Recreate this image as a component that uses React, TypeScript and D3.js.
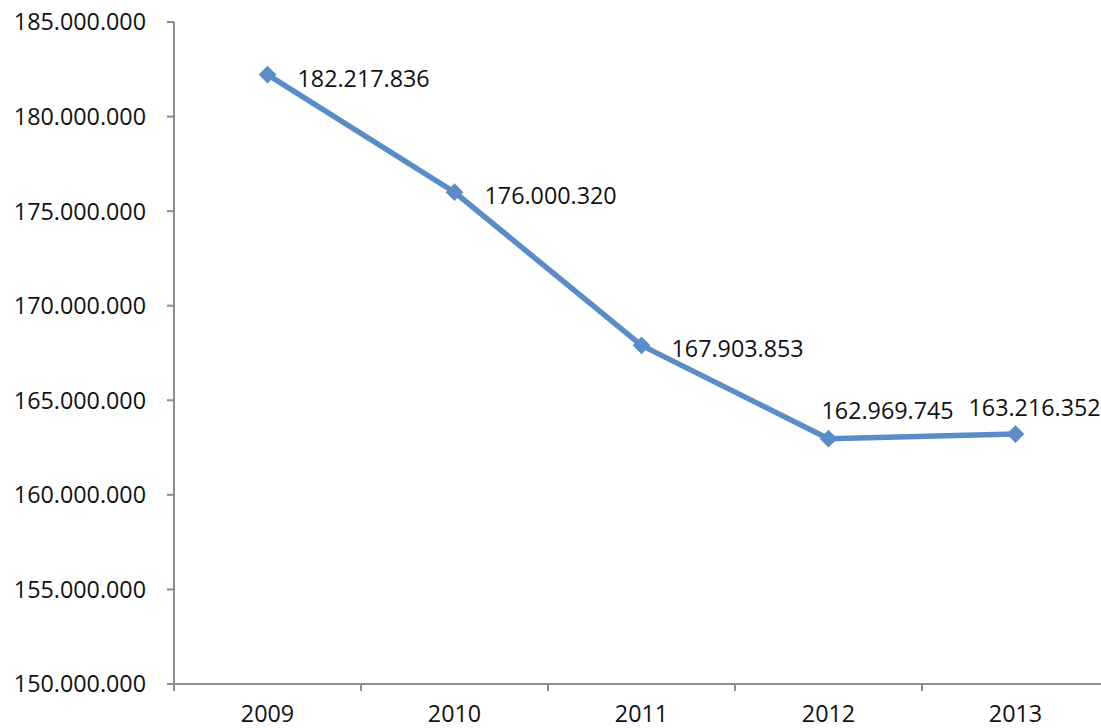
import React from "react";
import * as d3 from "d3";

const years = ["2009", "2010", "2011", "2012", "2013"];
const values = [182217836, 176000320, 167903853, 162969745, 163216352];
const yTicks = [150000000, 155000000, 160000000, 165000000, 170000000, 175000000, 180000000, 185000000];
const labelSide = ["right", "right", "right", "above", "above"];

const W = 1101;
const H = 728;
const FONT = "'Open Sans', sans-serif";
const BLUE = "#5A8DC7";
const AXIS = "#8E8E8E";

const locale = d3.formatLocale({ decimal: ",", thousands: ".", grouping: [3], currency: ["", ""] });
const fmt = locale.format(",d");

export default function App() {
  const left = 174;
  const band = 187;
  const x = d3.scaleBand<string>().domain(years).range([left, left + band * years.length]).padding(0);
  const y = d3.scaleLinear().domain([150000000, 185000000]).range([684, 22]);
  const cx = (d: string) => (x(d) as number) + x.bandwidth() / 2;

  const line = d3
    .line<number>()
    .x((_, i) => cx(years[i]))
    .y((v) => y(v));

  const diamond = d3.symbol().type(d3.symbolDiamond2).size(200);

  const xTickPos = years.map((d) => x(d) as number).concat([left + band * years.length]);

  const labelPos = (i: number) => {
    const px = cx(years[i]);
    const py = y(values[i]);
    if (labelSide[i] === "right") return { x: px + 30, y: py + 12 };
    if (i === 3) return { x: px - 7, y: py - 20 };
    return { x: px - 47, y: py - 18 };
  };

  return (
    <div style={{ position: "fixed", left: 0, top: 0, width: W, height: H, background: "#fff" }}>
      <svg width={W} height={H} style={{ display: "block" }}>
        <rect x={0} y={0} width={W} height={H} fill="#fff" />
        {/* y axis */}
        <line x1={left} x2={left} y1={y(185000000)} y2={y(150000000)} stroke={AXIS} strokeWidth={2} />
        {yTicks.map((t) => (
          <g key={t}>
            <line x1={left - 7} x2={left} y1={y(t)} y2={y(t)} stroke={AXIS} strokeWidth={2} />
            <text
              x={146}
              y={y(t)}
              dy="0.36em"
              textAnchor="end"
              fontFamily={FONT}
              fontSize={23.3}
              fill="#111"
            >
              {fmt(t)}
            </text>
          </g>
        ))}
        {/* x axis */}
        <line x1={left} x2={W + 20} y1={y(150000000)} y2={y(150000000)} stroke={AXIS} strokeWidth={2} />
        {xTickPos.map((p, i) => (
          <line key={i} x1={p} x2={p} y1={y(150000000)} y2={y(150000000) + 7} stroke={AXIS} strokeWidth={2} />
        ))}
        {years.map((d) => (
          <text key={d} x={cx(d)} y={722} textAnchor="middle" fontFamily={FONT} fontSize={23.3} fill="#111">
            {d}
          </text>
        ))}
        {/* series */}
        <path d={line(values) || ""} fill="none" stroke={BLUE} strokeWidth={5.5} strokeLinejoin="round" />
        {values.map((v, i) => (
          <path key={i} d={diamond() || ""} transform={`translate(${cx(years[i])},${y(v)})`} fill={BLUE} />
        ))}
        {values.map((v, i) => {
          const p = labelPos(i);
          return (
            <text key={i} x={p.x} y={p.y} fontFamily={FONT} fontSize={23.3} fill="#111">
              {fmt(v)}
            </text>
          );
        })}
      </svg>
    </div>
  );
}
